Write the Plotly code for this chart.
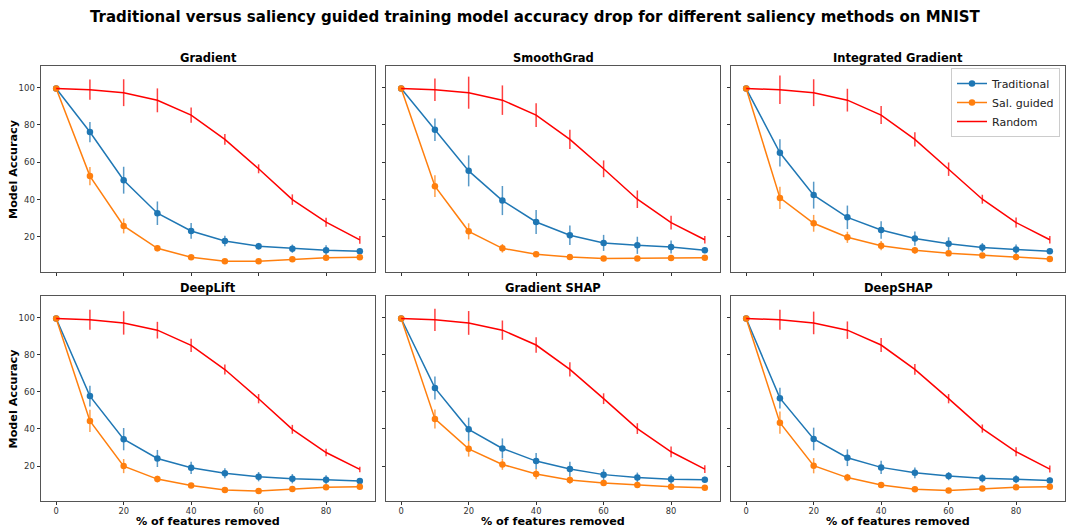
import plotly.graph_objects as go
from plotly.subplots import make_subplots

x_removed = [0, 10, 20, 30, 40, 50, 60, 70, 80, 90]
methods = ["Gradient", "SmoothGrad", "Integrated Gradient", "DeepLift", "Gradient SHAP", "DeepSHAP"]

trad_mean = {
    "Gradient":            [99.5, 76.2, 50.4, 32.7, 23.2, 17.8, 15.0, 13.7, 12.8, 12.3],
    "SmoothGrad":          [99.5, 77.4, 55.4, 39.5, 28.0, 20.9, 16.8, 15.5, 14.6, 12.8],
    "Integrated Gradient": [99.5, 65.1, 42.4, 30.5, 23.7, 19.1, 16.4, 14.3, 13.2, 12.3],
    "DeepLift":            [99.5, 57.7, 34.5, 24.1, 19.1, 16.1, 14.3, 13.2, 12.7, 12.0],
    "Gradient SHAP":       [99.5, 62.1, 39.8, 29.5, 22.7, 18.4, 15.4, 13.9, 12.9, 12.7],
    "DeepSHAP":            [99.5, 56.6, 34.6, 24.5, 19.3, 16.4, 14.6, 13.4, 12.9, 12.3],
}
trad_err = {
    "Gradient":            [0.3, 5.4, 7.2, 6.3, 4.2, 2.8, 1.8, 2.2, 2.7, 1.5],
    "SmoothGrad":          [0.3, 6.0, 8.3, 7.8, 6.4, 5.2, 4.3, 4.6, 3.5, 1.6],
    "Integrated Gradient": [0.3, 7.3, 7.2, 6.3, 4.7, 3.8, 3.4, 2.4, 2.7, 1.5],
    "DeepLift":            [0.3, 5.6, 6.0, 4.6, 3.3, 2.7, 2.5, 2.5, 2.4, 1.3],
    "Gradient SHAP":       [0.3, 6.2, 6.3, 5.4, 4.3, 4.0, 2.9, 2.6, 2.6, 1.6],
    "DeepSHAP":            [0.3, 5.6, 6.1, 4.5, 3.6, 2.9, 2.2, 2.2, 2.2, 1.6],
}
sal_mean = {
    "Gradient":            [99.5, 52.6, 25.9, 13.9, 9.1, 6.9, 6.9, 8.0, 8.9, 9.1],
    "SmoothGrad":          [99.5, 47.2, 23.0, 13.9, 10.7, 9.2, 8.5, 8.5, 8.7, 8.9],
    "Integrated Gradient": [99.5, 40.9, 27.3, 19.8, 15.3, 12.8, 11.2, 10.1, 9.2, 8.2],
    "DeepLift":            [99.5, 44.3, 20.0, 13.0, 9.5, 7.1, 6.6, 7.7, 8.6, 8.9],
    "Gradient SHAP":       [99.5, 45.4, 29.3, 20.9, 15.7, 12.5, 10.9, 9.8, 8.9, 8.4],
    "DeepSHAP":            [99.5, 43.4, 20.2, 13.8, 9.8, 7.5, 6.8, 7.9, 8.6, 8.9],
}
sal_err = {
    "Gradient":            [0.3, 4.9, 4.0, 1.6, 0.8, 0.6, 0.6, 0.6, 0.6, 0.6],
    "SmoothGrad":          [0.3, 5.8, 4.3, 2.3, 1.3, 0.6, 0.6, 0.6, 0.6, 0.6],
    "Integrated Gradient": [0.3, 6.0, 4.5, 3.0, 2.5, 1.8, 1.2, 1.0, 0.8, 0.6],
    "DeepLift":            [0.3, 6.0, 3.8, 1.8, 1.0, 0.6, 0.6, 0.6, 0.6, 0.6],
    "Gradient SHAP":       [0.3, 5.1, 4.2, 2.9, 2.8, 2.0, 1.5, 1.2, 0.8, 0.6],
    "DeepSHAP":            [0.3, 6.0, 4.1, 2.0, 1.0, 0.6, 0.6, 0.6, 0.6, 0.6],
}
rand_mean = {
    "Gradient":            [99.5, 98.9, 97.3, 93.2, 85.3, 72.3, 56.5, 40.0, 27.9, 18.4],
    "SmoothGrad":          [99.5, 98.9, 97.3, 93.3, 85.3, 72.3, 56.5, 40.2, 27.7, 18.5],
    "Integrated Gradient": [99.5, 98.9, 97.3, 93.3, 85.3, 72.3, 56.3, 40.2, 27.7, 18.5],
    "DeepLift":            [99.5, 98.8, 97.1, 93.2, 85.0, 72.0, 56.3, 39.8, 27.3, 18.2],
    "Gradient SHAP":       [99.5, 98.8, 97.1, 93.2, 85.2, 72.1, 56.3, 40.2, 27.7, 18.4],
    "DeepSHAP":            [99.5, 98.8, 97.1, 93.2, 85.2, 72.1, 56.3, 40.2, 27.7, 18.4],
}
rand_err = {
    "Gradient":            [0.0, 5.4, 7.2, 6.4, 4.1, 2.9, 2.4, 2.8, 2.4, 2.1],
    "SmoothGrad":          [0.0, 6.0, 8.6, 7.9, 6.4, 5.2, 4.5, 4.7, 3.7, 2.0],
    "Integrated Gradient": [0.0, 7.6, 7.2, 6.1, 4.8, 3.8, 3.6, 2.4, 2.7, 2.0],
    "DeepLift":            [0.0, 5.4, 6.3, 4.5, 3.6, 2.7, 2.5, 2.4, 2.0, 1.5],
    "Gradient SHAP":       [0.0, 6.0, 6.4, 5.2, 4.2, 3.8, 2.9, 2.9, 2.9, 2.1],
    "DeepSHAP":            [0.0, 5.4, 6.1, 4.7, 3.8, 2.9, 2.5, 2.2, 2.4, 1.9],
}

series_names = ["Traditional", "Sal. guided", "Random"]
x_ticks = [0, 20, 40, 60, 80]
y_ticks = [20, 40, 60, 80, 100]

W, H = 1070, 527
FONT = "DejaVu Sans"
BLUE = "#1f77b4"
ORANGE = "#ff7f0e"
RED = "#ff0000"

fig = make_subplots(rows=2, cols=3, shared_xaxes=True, shared_yaxes=True)

col_px = [(41, 375), (386, 720), (731, 1065)]
row_px = [(66, 272), (296, 501)]

for i, m in enumerate(methods):
    r, c = i // 3 + 1, i % 3 + 1
    show = (i == 0)
    fig.add_trace(go.Scatter(
        x=x_removed, y=trad_mean[m], name=series_names[0], mode="lines+markers",
        line=dict(color=BLUE, width=1.5), marker=dict(color=BLUE, size=6.5),
        error_y=dict(type="data", array=trad_err[m], visible=True, width=0,
                     thickness=1.5, color="rgba(31,119,180,0.75)"),
        showlegend=show, legendgroup="t"), row=r, col=c)
    fig.add_trace(go.Scatter(
        x=x_removed, y=sal_mean[m], name=series_names[1], mode="lines+markers",
        line=dict(color=ORANGE, width=1.5), marker=dict(color=ORANGE, size=6.5),
        error_y=dict(type="data", array=sal_err[m], visible=True, width=0,
                     thickness=1.5, color="rgba(255,127,14,0.75)"),
        showlegend=show, legendgroup="s"), row=r, col=c)
    fig.add_trace(go.Scatter(
        x=x_removed, y=rand_mean[m], name=series_names[2], mode="lines",
        line=dict(color=RED, width=1.5),
        error_y=dict(type="data", array=rand_err[m], visible=True, width=0,
                     thickness=1.5, color="rgba(255,0,0,0.75)"),
        showlegend=show, legendgroup="r"), row=r, col=c)

for r in range(2):
    for c in range(3):
        idx = r * 3 + c + 1
        xs = "" if idx == 1 else str(idx)
        x0, x1 = col_px[c]
        yt, yb = row_px[r]
        fig.layout["xaxis" + xs].update(
            domain=[x0 / W, x1 / W], range=[-4.5, 94.5], tickvals=x_ticks,
            showticklabels=(r == 1), ticks="outside", ticklen=2.5, tickwidth=1,
            tickcolor="#333", showline=True, mirror=True, linecolor="#555", linewidth=1,
            showgrid=False, zeroline=False,
            tickfont=dict(family=FONT, size=8.3, color="#333"))
        fig.layout["yaxis" + xs].update(
            domain=[(H - yb) / H, (H - yt) / H], range=[1.2, 111.6], tickvals=y_ticks,
            showticklabels=(c == 0), ticks="outside", ticklen=3.5, tickwidth=1,
            tickcolor="#333", showline=True, mirror=True, linecolor="#555", linewidth=1,
            showgrid=False, zeroline=False,
            tickfont=dict(family=FONT, size=8.5, color="#333"))

annotations = []
annotations.append(dict(text="<b>Traditional versus saliency guided training model accuracy drop for different saliency methods on MNIST</b>",
                        x=535 / W, y=1 - 17 / H, xref="paper", yref="paper", showarrow=False,
                        xanchor="center", yanchor="middle", font=dict(family=FONT, size=15, color="black")))
for i, m in enumerate(methods):
    r, c = i // 3, i % 3
    x0, x1 = col_px[c]
    ty = 58 if r == 0 else 288
    annotations.append(dict(text="<b>" + m + "</b>", x=(x0 + x1) / 2 / W, y=1 - ty / H,
                            xref="paper", yref="paper", showarrow=False, xanchor="center",
                            yanchor="middle", font=dict(family=FONT, size=11.5, color="black")))
for c in range(3):
    x0, x1 = col_px[c]
    annotations.append(dict(text="<b>% of features removed</b>", x=(x0 + x1) / 2 / W, y=1 - 521.5 / H,
                            xref="paper", yref="paper", showarrow=False, xanchor="center",
                            yanchor="middle", borderpad=0,
                            font=dict(family=FONT, size=11.2, color="black")))
for r in range(2):
    yt, yb = row_px[r]
    annotations.append(dict(text="<b>Model Accuracy</b>", x=13 / W, y=1 - (yt + yb) / 2 / H,
                            xref="paper", yref="paper", showarrow=False, textangle=-90,
                            xanchor="center", yanchor="middle",
                            font=dict(family=FONT, size=11.2, color="black")))

fig.update_layout(
    width=W, height=H, margin=dict(l=0, r=0, t=0, b=0),
    paper_bgcolor="white", plot_bgcolor="white",
    annotations=annotations,
    font=dict(family=FONT),
    legend=dict(x=1060 / W, y=1 - 68 / H, xanchor="right", yanchor="top",
                bgcolor="rgba(255,255,255,0.9)", bordercolor="#ccc", borderwidth=1,
                font=dict(family=FONT, size=11, color="#222"), tracegroupgap=0,
                itemwidth=30),
)

fig.write_html("out.html")
